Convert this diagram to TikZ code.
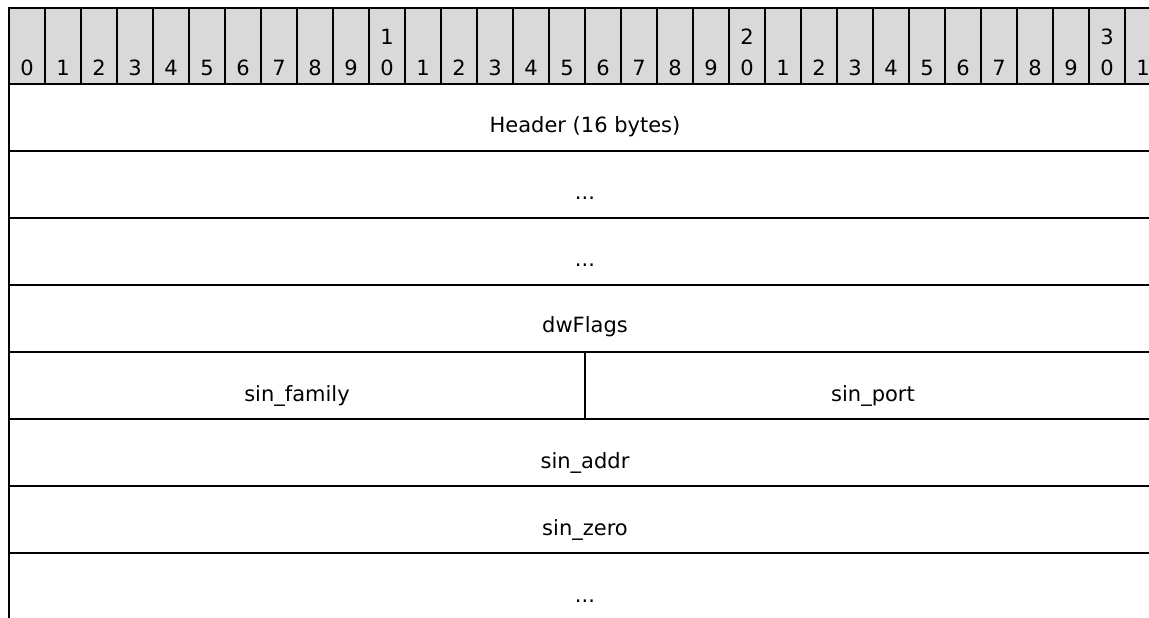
\documentclass[tikz,border=0pt]{standalone}
\usepackage{fontspec}
\setmainfont{DejaVu Sans}
\definecolor{hdrgray}{HTML}{D9D9D9}
\tikzset{
  bitlbl/.style={anchor=base, inner sep=0pt, font=\fontsize{21}{25}\selectfont},
  fieldlbl/.style={anchor=base, inner sep=0pt, font=\fontsize{21}{25}\selectfont},
  rowline/.style={line width=2pt},
  sepline/.style={line width=1.8pt},
}
\begin{document}
\begin{tikzpicture}[x=1pt,y=-1pt]
\useasboundingbox (0,0) rectangle (1149,618);
\clip (0,0) rectangle (1149,618);
% header band
\fill[hdrgray] (9,8) rectangle (1161,84);
\foreach \k in {1,...,32} {
  \draw[sepline] ({9+36*\k},8) -- ({9+36*\k},84);
}
\draw[rowline] (8,8) -- (1161,8);
% bit numbers
\foreach \k in {0,...,31} {
  \pgfmathtruncatemacro{\u}{mod(\k,10)}
  \pgfmathtruncatemacro{\t}{div(\k,10)}
  \node[bitlbl] (b\k) at ({27+36*\k},75) {\u};
  \ifnum\u=0 \ifnum\t>0
    \node[bitlbl] (bt\k) at ({27+36*\k},45) {\t};
  \fi\fi
}
% row lines
\foreach \r in {0,...,7} {
  \draw[rowline] (8,{84+67*\r}) -- (1161,{84+67*\r});
}
% left border
\draw[rowline] (9,7) -- (9,620);
% half divider
\draw[rowline] (585,352) -- (585,419);
% field texts
\node[fieldlbl] (hdr) at (585,132) {Header (16 bytes)};
\node[fieldlbl] (d1) at (585,199) {...};
\node[fieldlbl] (d2) at (585,266) {...};
\node[fieldlbl] (flags) at (585,332) {dwFlags};
\node[fieldlbl] (fam) at (297,401) {sin\_family};
\node[fieldlbl] (port) at (873,401) {sin\_port};
\node[fieldlbl] (addr) at (585,468) {sin\_addr};
\node[fieldlbl] (zero) at (585,535) {sin\_zero};
\node[fieldlbl] (d3) at (585,602) {...};
\end{tikzpicture}
\end{document}
